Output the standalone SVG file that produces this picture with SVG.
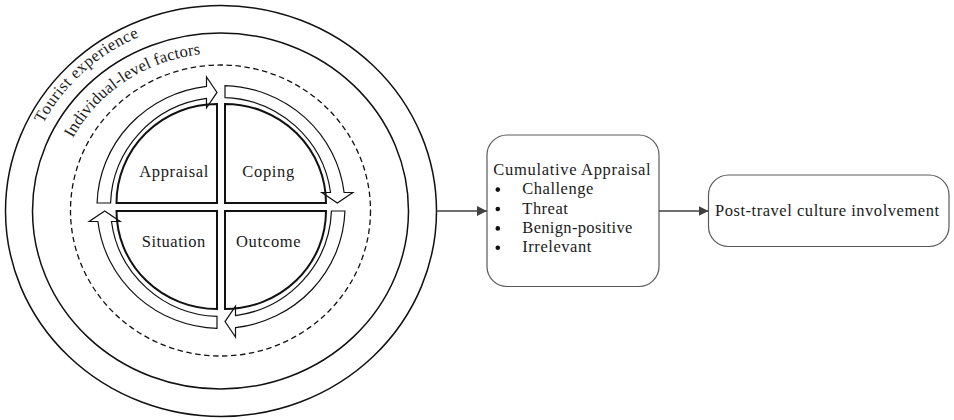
<svg xmlns="http://www.w3.org/2000/svg" width="954" height="420" viewBox="0 0 954 420">
  <style>
    text { font-family: "Liberation Serif", "DejaVu Serif", serif; font-size: 16.5px; fill: #1a1a1a; }
    .ring { fill: none; stroke: #111; stroke-width: 1.5; }
    .dash { fill: none; stroke: #111; stroke-width: 1.3; stroke-dasharray: 5.5 3.5; }
    .quad { fill: #fff; stroke: #111; stroke-width: 2; stroke-linejoin: miter; }
    .cyc { fill: none; stroke: #111; stroke-width: 1.2; stroke-linejoin: miter; }
    .box { fill: #fff; stroke: #5a5a5a; stroke-width: 1.2; }
    .link { fill: none; stroke: #404040; stroke-width: 1.5; }
  </style>
  <defs>
    <marker id="head" viewBox="0 0 10 10" refX="10" refY="5" markerWidth="10" markerHeight="10" markerUnits="userSpaceOnUse" orient="auto">
      <path d="M0,0 L10,5 L0,10 Z" fill="#404040"/>
    </marker>
    <path id="arcTourist" d="M 43.1,123.7 A 200 191 0 0 1 255.7,22.9"/>
    <path id="arcIndividual" d="M 72.7,138.3 A 167 158 0 0 1 304.5,74.2"/>
  </defs>

  <rect width="954" height="420" fill="#fff"/>

  <!-- nested context layers -->
  <g id="tourist-experience">
    <ellipse class="ring" cx="221" cy="211" rx="215.5" ry="205.5"/>
    <text><textPath href="#arcTourist" textLength="132" lengthAdjust="spacing">Tourist experience</textPath></text>
  </g>
  <g id="individual-level-factors">
    <ellipse class="ring" cx="220.5" cy="211" rx="188" ry="178"/>
    <text><textPath href="#arcIndividual" textLength="159" lengthAdjust="spacing">Individual-level factors</textPath></text>
  </g>
  <g id="boundary">
    <ellipse class="dash" cx="220.5" cy="210.5" rx="150" ry="145.5"/>
  </g>

  <!-- four stages of the cycle -->
  <g id="appraisal">
    <path class="quad" d="M 217,203 L 116.5,203 A 100.5 99 0 0 1 217,104 Z"/>
    <text x="139.3" y="177" textLength="69" lengthAdjust="spacing">Appraisal</text>
  </g>
  <g id="coping">
    <path class="quad" d="M 225,203 L 225,104 A 101 99 0 0 1 326,203 Z"/>
    <text x="242.3" y="177" textLength="52" lengthAdjust="spacing">Coping</text>
  </g>
  <g id="situation">
    <path class="quad" d="M 217,211 L 116.5,211 A 100.5 98 0 0 0 217,309 Z"/>
    <text x="141.7" y="247.3" textLength="63.6" lengthAdjust="spacing">Situation</text>
  </g>
  <g id="outcome">
    <path class="quad" d="M 225,211 L 326,211 A 101 98 0 0 1 225,309 Z"/>
    <text x="236" y="247.3" textLength="64.7" lengthAdjust="spacing">Outcome</text>
  </g>

  <!-- block arrows running clockwise round the cycle -->
  <g id="cycle-arrows">
    <path class="cyc" d="M 97.07,203 A 124 121.5 0 0 1 206.5,86.33 L 206.5,76.9 L 217,92.4 L 206.5,107.9 L 206.5,98.45 A 110.5 109.5 0 0 0 110.57,203 Z"/>
    <path class="cyc" d="M 225,85.56 A 124 121.5 0 0 1 344.11,192.5 L 352.82,192.5 L 337.32,203 L 321.82,192.5 L 330.53,192.5 A 110.5 109.5 0 0 0 225,97.57 Z"/>
    <path class="cyc" d="M 344.93,211 A 124 121.5 0 0 1 235.5,327.67 L 235.5,337.11 L 225,321.61 L 235.5,306.11 L 235.5,315.55 A 110.5 109.5 0 0 0 331.43,211 Z"/>
    <path class="cyc" d="M 217,328.44 A 124 121.5 0 0 1 97.89,221.5 L 89.18,221.5 L 104.68,211 L 120.18,221.5 L 111.47,221.5 A 110.5 109.5 0 0 0 217,316.43 Z"/>
  </g>

  <!-- outcome boxes -->
  <g id="cumulative-appraisal">
    <rect class="box" x="487" y="135" width="172" height="151.5" rx="20" ry="20"/>
    <text x="493.3" y="175" textLength="157.4" lengthAdjust="spacing">Cumulative Appraisal</text>
    <circle cx="497.8" cy="189.6" r="2.3" fill="#111"/>
    <circle cx="497.8" cy="209" r="2.3" fill="#111"/>
    <circle cx="497.8" cy="228.4" r="2.3" fill="#111"/>
    <circle cx="497.8" cy="247.8" r="2.3" fill="#111"/>
    <text x="522.3" y="194.2" textLength="71" lengthAdjust="spacing">Challenge</text>
    <text x="522.3" y="213.5" textLength="45.5" lengthAdjust="spacing">Threat</text>
    <text x="522.3" y="232.8" textLength="110" lengthAdjust="spacing">Benign-positive</text>
    <text x="522.3" y="252.1" textLength="69" lengthAdjust="spacing">Irrelevant</text>
  </g>
  <g id="post-travel">
    <rect class="box" x="708.5" y="175" width="240.5" height="71.5" rx="20" ry="20"/>
    <text x="715" y="216.2" textLength="224" lengthAdjust="spacing">Post-travel culture involvement</text>
  </g>

  <!-- connectors -->
  <g id="connectors">
    <line class="link" x1="436.5" y1="211" x2="487" y2="211" marker-end="url(#head)"/>
    <line class="link" x1="659" y1="211" x2="708.5" y2="211" marker-end="url(#head)"/>
  </g>
</svg>
